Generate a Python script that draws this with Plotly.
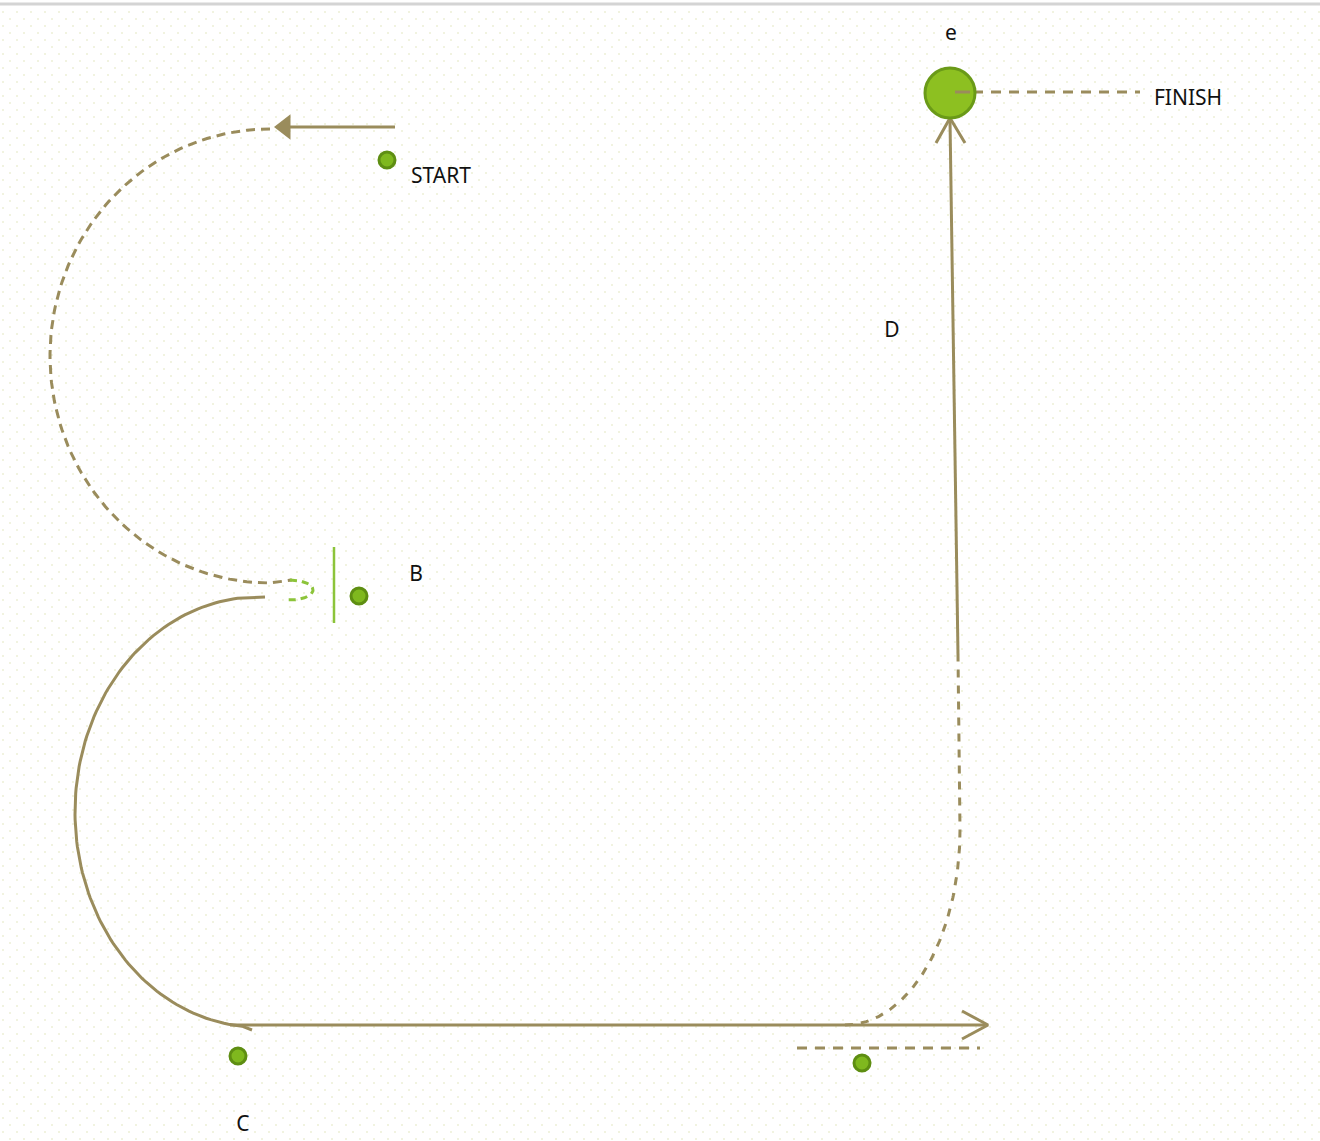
import numpy as np
import plotly.graph_objects as go

W, H = 1320, 1141

# node markers (pixel positions on the canvas)
dot_names = ['START', 'B', 'C', 'E']
dot_x = [387, 359, 238, 862]
dot_y = [160, 596, 1056, 1063]

# text labels
label_text = ['START', 'B', 'C', 'D', 'e', 'FINISH']
label_x = [441, 416, 243, 892, 951, 1188]
label_y = [178, 576, 1126, 332, 35, 100]

# finish circle
finish_x, finish_y = [950], [93]

# path pieces
start_line_x = [395, 285]
start_line_y = [127, 127]
# dashed arc from start round to B (ellipse centre, radii, angle span)
arc1 = dict(cx=270, cy=356, rx=220, ry=227, a0=90, a1=270)
# solid arc from B down to C
arc2 = dict(cx=258, cy=812, rx=183, ry=215, a0=95, a1=265)
bottom_line_x = [230, 985]
bottom_line_y = [1025, 1025]
lower_dash_x = [797, 980]
lower_dash_y = [1048, 1048]
# dashed curve from bottom line up to the D column
arc3 = dict(cx=845, cy=830, rx=115, ry=195, a0=-90, a1=0)
d_dash_x = [960, 958]
d_dash_y = [830, 655]
d_line_x = [958, 950]
d_line_y = [655, 120]
finish_dash_x = [955, 1140]
finish_dash_y = [92, 92]
b_bar_x = [334, 334]
b_bar_y = [547, 623]

KHAKI = '#9a8c5c'
LGREEN = '#8cc43a'
DGREEN = '#5e8e12'


def ellipse(p, n=120):
    t = np.radians(np.linspace(p['a0'], p['a1'], n))
    # y axis is reversed (screen coords), so +sin goes up visually
    return p['cx'] + p['rx'] * np.cos(t), p['cy'] - p['ry'] * np.sin(t)


fig = go.Figure()

# faint staggered dot background
gx, gy = [], []
for j, yy in enumerate(range(12, H, 7)):
    off = 0 if j % 2 == 0 else 7
    for xx in range(3 + off, W, 14):
        gx.append(xx)
        gy.append(yy)
fig.add_trace(go.Scatter(x=gx, y=gy, mode='markers', hoverinfo='skip',
                         marker=dict(size=2, color='#ecefd6'), showlegend=False))


def line(x, y, color=KHAKI, width=3, dash='solid'):
    fig.add_trace(go.Scatter(x=x, y=y, mode='lines', hoverinfo='skip', showlegend=False,
                             line=dict(color=color, width=width, dash=dash)))


# start arrow + dashed loop
line(start_line_x, start_line_y)
ax, ay = ellipse(arc1)
line(list(ax) + [292], list(ay) + [580], dash='9px,6px')
# light green little loop at B
lx, ly = ellipse(dict(cx=290, cy=590, rx=23, ry=10, a0=90, a1=-100), 40)
line(lx, ly, color=LGREEN, dash='7px,5px')
# vertical bar at B
line(b_bar_x, b_bar_y, color=LGREEN, width=2.5)
# solid arc B -> C
bx, by = ellipse(arc2)
line([265] + list(bx) + [252], [597] + list(by) + [1030])
# bottom arrow
line(bottom_line_x, bottom_line_y)
line([962, 988, 962], [1011, 1025, 1039])
line(lower_dash_x, lower_dash_y, dash='10px,8px')
# dashed curve up to D
cx3, cy3 = ellipse(arc3)
line(list(cx3) + d_dash_x[1:], list(cy3) + d_dash_y[1:], dash='8px,8px')
# solid line D up to finish
line(d_line_x, d_line_y)
line([936, 950, 965], [143, 118, 143])
line(finish_dash_x, finish_dash_y, dash='10px,8px')

# start filled arrowhead
fig.add_trace(go.Scatter(x=[285], y=[127], mode='markers', hoverinfo='skip', showlegend=False,
                         marker=dict(symbol='triangle-left', size=22, color=KHAKI)))

# finish circle
fig.add_trace(go.Scatter(x=finish_x, y=finish_y, mode='markers', hoverinfo='skip', showlegend=False,
                         marker=dict(size=50, color='#8dc021', line=dict(color='#6a9a18', width=3))))
line([955, 970], [92, 92])

# node dots
fig.add_trace(go.Scatter(x=dot_x, y=dot_y, mode='markers', text=dot_names, hoverinfo='text',
                         showlegend=False,
                         marker=dict(size=16, color='#7fb81e', line=dict(color=DGREEN, width=3))))

# labels
fig.add_trace(go.Scatter(x=label_x, y=label_y, mode='text', text=label_text, hoverinfo='skip',
                         showlegend=False,
                         textfont=dict(family='Noto Sans', size=21, color='#111111')))

# top grey rule
fig.add_shape(type='line', x0=0, x1=W, y0=4, y1=4, line=dict(color='#d4d4d4', width=3))

fig.update_layout(
    width=W, height=H,
    margin=dict(l=0, r=0, t=0, b=0),
    paper_bgcolor='white', plot_bgcolor='white',
    xaxis=dict(range=[0, W], visible=False, fixedrange=True),
    yaxis=dict(range=[H, 0], visible=False, fixedrange=True),
)

# drop the default page margin so canvas pixels line up with the window
fig.write_html("out.html", config={'displayModeBar': False},
               post_script="document.body.style.margin='0';")
